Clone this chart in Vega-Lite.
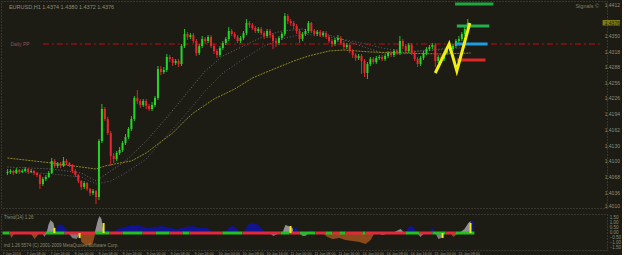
{
  "$schema": "https://vega.github.io/schema/vega-lite/v6.json",
  "background": "#1c1b14",
  "padding": 0,
  "spacing": 3,
  "config": {
    "view": {"stroke": "#55554a", "strokeDash": [1, 2]},
    "axis": {"grid": false, "domain": false, "ticks": false, "labelColor": "#8e8e78", "labelFont": "Liberation Sans", "labelFontSize": 5, "title": null},
    "text": {"font": "Liberation Sans"}
  },
  "datasets": {
    "candles": [
      {"i":0,"o":1.4076,"h":1.4084,"l":1.4072,"c":1.4078},
      {"i":1,"o":1.4078,"h":1.4084,"l":1.4074,"c":1.4080},
      {"i":2,"o":1.4080,"h":1.4082,"l":1.4072,"c":1.4076},
      {"i":3,"o":1.4076,"h":1.4086,"l":1.4074,"c":1.4082},
      {"i":4,"o":1.4082,"h":1.4084,"l":1.4074,"c":1.4078},
      {"i":5,"o":1.4078,"h":1.4084,"l":1.4076,"c":1.4080},
      {"i":6,"o":1.4080,"h":1.4088,"l":1.4078,"c":1.4084},
      {"i":7,"o":1.4084,"h":1.4086,"l":1.4074,"c":1.4078},
      {"i":8,"o":1.4078,"h":1.4084,"l":1.4076,"c":1.4080},
      {"i":9,"o":1.4080,"h":1.4082,"l":1.4072,"c":1.4076},
      {"i":10,"o":1.4076,"h":1.4078,"l":1.4068,"c":1.4072},
      {"i":11,"o":1.4072,"h":1.4074,"l":1.4044,"c":1.4054},
      {"i":12,"o":1.4054,"h":1.4068,"l":1.4050,"c":1.4064},
      {"i":13,"o":1.4064,"h":1.4072,"l":1.4060,"c":1.4068},
      {"i":14,"o":1.4068,"h":1.4080,"l":1.4066,"c":1.4076},
      {"i":15,"o":1.4076,"h":1.4106,"l":1.4074,"c":1.4100},
      {"i":16,"o":1.4100,"h":1.4104,"l":1.4086,"c":1.4090},
      {"i":17,"o":1.4090,"h":1.4098,"l":1.4086,"c":1.4094},
      {"i":18,"o":1.4094,"h":1.4098,"l":1.4086,"c":1.4090},
      {"i":19,"o":1.4090,"h":1.4108,"l":1.4088,"c":1.4100},
      {"i":20,"o":1.4100,"h":1.4104,"l":1.4092,"c":1.4096},
      {"i":21,"o":1.4096,"h":1.4098,"l":1.4088,"c":1.4092},
      {"i":22,"o":1.4092,"h":1.4094,"l":1.4076,"c":1.4080},
      {"i":23,"o":1.4080,"h":1.4084,"l":1.4068,"c":1.4072},
      {"i":24,"o":1.4072,"h":1.4074,"l":1.4056,"c":1.4060},
      {"i":25,"o":1.4060,"h":1.4062,"l":1.4042,"c":1.4048},
      {"i":26,"o":1.4048,"h":1.4060,"l":1.4044,"c":1.4056},
      {"i":27,"o":1.4056,"h":1.4058,"l":1.4040,"c":1.4044},
      {"i":28,"o":1.4044,"h":1.4046,"l":1.4030,"c":1.4036},
      {"i":29,"o":1.4036,"h":1.4044,"l":1.4032,"c":1.4040},
      {"i":30,"o":1.4040,"h":1.4042,"l":1.4014,"c":1.4028},
      {"i":31,"o":1.4028,"h":1.4144,"l":1.4022,"c":1.4140},
      {"i":32,"o":1.4140,"h":1.4214,"l":1.4136,"c":1.4204},
      {"i":33,"o":1.4204,"h":1.4208,"l":1.4180,"c":1.4184},
      {"i":34,"o":1.4184,"h":1.4188,"l":1.4152,"c":1.4156},
      {"i":35,"o":1.4156,"h":1.4160,"l":1.4090,"c":1.4110},
      {"i":36,"o":1.4110,"h":1.4116,"l":1.4096,"c":1.4104},
      {"i":37,"o":1.4104,"h":1.4120,"l":1.4100,"c":1.4116},
      {"i":38,"o":1.4116,"h":1.4128,"l":1.4112,"c":1.4122},
      {"i":39,"o":1.4122,"h":1.4140,"l":1.4118,"c":1.4136},
      {"i":40,"o":1.4136,"h":1.4154,"l":1.4132,"c":1.4148},
      {"i":41,"o":1.4148,"h":1.4168,"l":1.4144,"c":1.4164},
      {"i":42,"o":1.4164,"h":1.4190,"l":1.4160,"c":1.4184},
      {"i":43,"o":1.4184,"h":1.4230,"l":1.4180,"c":1.4226},
      {"i":44,"o":1.4226,"h":1.4242,"l":1.4214,"c":1.4220},
      {"i":45,"o":1.4220,"h":1.4224,"l":1.4206,"c":1.4212},
      {"i":46,"o":1.4212,"h":1.4224,"l":1.4208,"c":1.4220},
      {"i":47,"o":1.4220,"h":1.4224,"l":1.4204,"c":1.4210},
      {"i":48,"o":1.4210,"h":1.4214,"l":1.4200,"c":1.4204},
      {"i":49,"o":1.4204,"h":1.4218,"l":1.4200,"c":1.4212},
      {"i":50,"o":1.4212,"h":1.4230,"l":1.4208,"c":1.4226},
      {"i":51,"o":1.4226,"h":1.4290,"l":1.4222,"c":1.4284},
      {"i":52,"o":1.4284,"h":1.4290,"l":1.4272,"c":1.4278},
      {"i":53,"o":1.4278,"h":1.4288,"l":1.4274,"c":1.4282},
      {"i":54,"o":1.4282,"h":1.4314,"l":1.4278,"c":1.4308},
      {"i":55,"o":1.4308,"h":1.4312,"l":1.4298,"c":1.4304},
      {"i":56,"o":1.4304,"h":1.4308,"l":1.4290,"c":1.4296},
      {"i":57,"o":1.4296,"h":1.4304,"l":1.4292,"c":1.4300},
      {"i":58,"o":1.4300,"h":1.4304,"l":1.4288,"c":1.4294},
      {"i":59,"o":1.4294,"h":1.4334,"l":1.4290,"c":1.4330},
      {"i":60,"o":1.4330,"h":1.4364,"l":1.4326,"c":1.4354},
      {"i":61,"o":1.4354,"h":1.4358,"l":1.4342,"c":1.4348},
      {"i":62,"o":1.4348,"h":1.4356,"l":1.4344,"c":1.4352},
      {"i":63,"o":1.4352,"h":1.4356,"l":1.4336,"c":1.4340},
      {"i":64,"o":1.4340,"h":1.4344,"l":1.4310,"c":1.4316},
      {"i":65,"o":1.4316,"h":1.4334,"l":1.4312,"c":1.4330},
      {"i":66,"o":1.4330,"h":1.4350,"l":1.4326,"c":1.4344},
      {"i":67,"o":1.4344,"h":1.4348,"l":1.4334,"c":1.4340},
      {"i":68,"o":1.4340,"h":1.4352,"l":1.4336,"c":1.4348},
      {"i":69,"o":1.4348,"h":1.4352,"l":1.4326,"c":1.4330},
      {"i":70,"o":1.4330,"h":1.4334,"l":1.4314,"c":1.4320},
      {"i":71,"o":1.4320,"h":1.4324,"l":1.4306,"c":1.4312},
      {"i":72,"o":1.4312,"h":1.4330,"l":1.4308,"c":1.4326},
      {"i":73,"o":1.4326,"h":1.4340,"l":1.4322,"c":1.4336},
      {"i":74,"o":1.4336,"h":1.4348,"l":1.4332,"c":1.4344},
      {"i":75,"o":1.4344,"h":1.4368,"l":1.4340,"c":1.4360},
      {"i":76,"o":1.4360,"h":1.4364,"l":1.4350,"c":1.4354},
      {"i":77,"o":1.4354,"h":1.4358,"l":1.4344,"c":1.4348},
      {"i":78,"o":1.4348,"h":1.4352,"l":1.4336,"c":1.4340},
      {"i":79,"o":1.4340,"h":1.4350,"l":1.4336,"c":1.4346},
      {"i":80,"o":1.4346,"h":1.4360,"l":1.4342,"c":1.4356},
      {"i":81,"o":1.4356,"h":1.4384,"l":1.4352,"c":1.4376},
      {"i":82,"o":1.4376,"h":1.4380,"l":1.4366,"c":1.4372},
      {"i":83,"o":1.4372,"h":1.4376,"l":1.4362,"c":1.4366},
      {"i":84,"o":1.4366,"h":1.4370,"l":1.4356,"c":1.4360},
      {"i":85,"o":1.4360,"h":1.4368,"l":1.4356,"c":1.4364},
      {"i":86,"o":1.4364,"h":1.4368,"l":1.4352,"c":1.4356},
      {"i":87,"o":1.4356,"h":1.4360,"l":1.4344,"c":1.4350},
      {"i":88,"o":1.4350,"h":1.4364,"l":1.4346,"c":1.4360},
      {"i":89,"o":1.4360,"h":1.4364,"l":1.4346,"c":1.4352},
      {"i":90,"o":1.4352,"h":1.4356,"l":1.4324,"c":1.4340},
      {"i":91,"o":1.4340,"h":1.4346,"l":1.4328,"c":1.4336},
      {"i":92,"o":1.4336,"h":1.4350,"l":1.4332,"c":1.4346},
      {"i":93,"o":1.4346,"h":1.4358,"l":1.4342,"c":1.4354},
      {"i":94,"o":1.4354,"h":1.4396,"l":1.4350,"c":1.4390},
      {"i":95,"o":1.4390,"h":1.4394,"l":1.4374,"c":1.4380},
      {"i":96,"o":1.4380,"h":1.4384,"l":1.4370,"c":1.4376},
      {"i":97,"o":1.4376,"h":1.4380,"l":1.4364,"c":1.4370},
      {"i":98,"o":1.4370,"h":1.4374,"l":1.4354,"c":1.4360},
      {"i":99,"o":1.4360,"h":1.4364,"l":1.4336,"c":1.4344},
      {"i":100,"o":1.4344,"h":1.4358,"l":1.4340,"c":1.4354},
      {"i":101,"o":1.4354,"h":1.4364,"l":1.4350,"c":1.4360},
      {"i":102,"o":1.4360,"h":1.4380,"l":1.4356,"c":1.4376},
      {"i":103,"o":1.4376,"h":1.4378,"l":1.4356,"c":1.4360},
      {"i":104,"o":1.4360,"h":1.4364,"l":1.4350,"c":1.4354},
      {"i":105,"o":1.4354,"h":1.4362,"l":1.4350,"c":1.4358},
      {"i":106,"o":1.4358,"h":1.4362,"l":1.4348,"c":1.4352},
      {"i":107,"o":1.4352,"h":1.4360,"l":1.4348,"c":1.4356},
      {"i":108,"o":1.4356,"h":1.4360,"l":1.4344,"c":1.4348},
      {"i":109,"o":1.4348,"h":1.4352,"l":1.4336,"c":1.4340},
      {"i":110,"o":1.4340,"h":1.4344,"l":1.4328,"c":1.4334},
      {"i":111,"o":1.4334,"h":1.4346,"l":1.4330,"c":1.4342},
      {"i":112,"o":1.4342,"h":1.4352,"l":1.4338,"c":1.4346},
      {"i":113,"o":1.4346,"h":1.4350,"l":1.4332,"c":1.4336},
      {"i":114,"o":1.4336,"h":1.4340,"l":1.4322,"c":1.4328},
      {"i":115,"o":1.4328,"h":1.4336,"l":1.4324,"c":1.4332},
      {"i":116,"o":1.4332,"h":1.4336,"l":1.4316,"c":1.4320},
      {"i":117,"o":1.4320,"h":1.4324,"l":1.4306,"c":1.4312},
      {"i":118,"o":1.4312,"h":1.4316,"l":1.4300,"c":1.4306},
      {"i":119,"o":1.4306,"h":1.4314,"l":1.4302,"c":1.4310},
      {"i":120,"o":1.4310,"h":1.4314,"l":1.4274,"c":1.4300},
      {"i":121,"o":1.4300,"h":1.4304,"l":1.4268,"c":1.4276},
      {"i":122,"o":1.4276,"h":1.4298,"l":1.4264,"c":1.4294},
      {"i":123,"o":1.4294,"h":1.4308,"l":1.4290,"c":1.4304},
      {"i":124,"o":1.4304,"h":1.4308,"l":1.4294,"c":1.4298},
      {"i":125,"o":1.4298,"h":1.4310,"l":1.4294,"c":1.4306},
      {"i":126,"o":1.4306,"h":1.4312,"l":1.4302,"c":1.4308},
      {"i":127,"o":1.4308,"h":1.4312,"l":1.4300,"c":1.4304},
      {"i":128,"o":1.4304,"h":1.4314,"l":1.4300,"c":1.4310},
      {"i":129,"o":1.4310,"h":1.4320,"l":1.4306,"c":1.4316},
      {"i":130,"o":1.4316,"h":1.4320,"l":1.4308,"c":1.4312},
      {"i":131,"o":1.4312,"h":1.4324,"l":1.4308,"c":1.4320},
      {"i":132,"o":1.4320,"h":1.4324,"l":1.4312,"c":1.4316},
      {"i":133,"o":1.4316,"h":1.4350,"l":1.4312,"c":1.4340},
      {"i":134,"o":1.4340,"h":1.4344,"l":1.4324,"c":1.4330},
      {"i":135,"o":1.4330,"h":1.4334,"l":1.4314,"c":1.4320},
      {"i":136,"o":1.4320,"h":1.4336,"l":1.4316,"c":1.4332},
      {"i":137,"o":1.4332,"h":1.4336,"l":1.4312,"c":1.4316},
      {"i":138,"o":1.4316,"h":1.4320,"l":1.4300,"c":1.4304},
      {"i":139,"o":1.4304,"h":1.4308,"l":1.4288,"c":1.4294},
      {"i":140,"o":1.4294,"h":1.4310,"l":1.4290,"c":1.4306},
      {"i":141,"o":1.4306,"h":1.4320,"l":1.4302,"c":1.4316},
      {"i":142,"o":1.4316,"h":1.4328,"l":1.4312,"c":1.4324},
      {"i":143,"o":1.4324,"h":1.4332,"l":1.4320,"c":1.4328},
      {"i":144,"o":1.4328,"h":1.4336,"l":1.4324,"c":1.4332},
      {"i":145,"o":1.4332,"h":1.4336,"l":1.4288,"c":1.4300},
      {"i":146,"o":1.4300,"h":1.4312,"l":1.4296,"c":1.4308},
      {"i":147,"o":1.4308,"h":1.4312,"l":1.4300,"c":1.4304},
      {"i":148,"o":1.4304,"h":1.4320,"l":1.4300,"c":1.4316},
      {"i":149,"o":1.4316,"h":1.4324,"l":1.4312,"c":1.4320},
      {"i":150,"o":1.4320,"h":1.4328,"l":1.4316,"c":1.4324},
      {"i":151,"o":1.4324,"h":1.4334,"l":1.4320,"c":1.4330},
      {"i":152,"o":1.4330,"h":1.4344,"l":1.4326,"c":1.4340},
      {"i":153,"o":1.4340,"h":1.4350,"l":1.4336,"c":1.4344},
      {"i":154,"o":1.4344,"h":1.4358,"l":1.4340,"c":1.4354},
      {"i":155,"o":1.4354,"h":1.4368,"l":1.4350,"c":1.4364},
      {"i":156,"o":1.4364,"h":1.4384,"l":1.4360,"c":1.4376}
    ],
    "ma": [
      {"name":"slow","i":0,"p":1.4106},{"name":"slow","i":15,"p":1.4096},{"name":"slow","i":30,"p":1.4084},
      {"name":"slow","i":33,"p":1.4090},{"name":"slow","i":38,"p":1.4096},{"name":"slow","i":42,"p":1.4100},
      {"name":"slow","i":47,"p":1.4116},{"name":"slow","i":51,"p":1.4134},{"name":"slow","i":56,"p":1.4156},
      {"name":"slow","i":60,"p":1.4180},{"name":"slow","i":63,"p":1.4196},{"name":"slow","i":70,"p":1.4224},
      {"name":"slow","i":77,"p":1.4244},{"name":"slow","i":83,"p":1.4266},{"name":"slow","i":87,"p":1.4276},
      {"name":"slow","i":97,"p":1.4300},{"name":"slow","i":102,"p":1.4310},{"name":"slow","i":109,"p":1.4320},
      {"name":"slow","i":114,"p":1.4322},{"name":"slow","i":123,"p":1.4318},{"name":"slow","i":133,"p":1.4316},
      {"name":"slow","i":147,"p":1.4314},{"name":"slow","i":157,"p":1.4316},
      {"name":"fast","i":0,"p":1.4088},{"name":"fast","i":15,"p":1.4084},{"name":"fast","i":25,"p":1.4076},
      {"name":"fast","i":30,"p":1.4060},{"name":"fast","i":35,"p":1.4080},{"name":"fast","i":40,"p":1.4100},
      {"name":"fast","i":47,"p":1.4140},{"name":"fast","i":53,"p":1.4180},{"name":"fast","i":60,"p":1.4230},
      {"name":"fast","i":67,"p":1.4280},{"name":"fast","i":73,"p":1.4310},{"name":"fast","i":80,"p":1.4330},
      {"name":"fast","i":87,"p":1.4350},{"name":"fast","i":93,"p":1.4360},{"name":"fast","i":100,"p":1.4364},
      {"name":"fast","i":107,"p":1.4356},{"name":"fast","i":113,"p":1.4344},{"name":"fast","i":120,"p":1.4330},
      {"name":"fast","i":127,"p":1.4316},{"name":"fast","i":133,"p":1.4316},{"name":"fast","i":140,"p":1.4320},
      {"name":"fast","i":147,"p":1.4324},{"name":"fast","i":156,"p":1.4336},
      {"name":"mid","i":0,"p":1.4080},{"name":"mid","i":15,"p":1.4074},{"name":"mid","i":25,"p":1.4068},
      {"name":"mid","i":30,"p":1.4054},{"name":"mid","i":35,"p":1.4060},{"name":"mid","i":40,"p":1.4076},
      {"name":"mid","i":47,"p":1.4104},{"name":"mid","i":53,"p":1.4144},{"name":"mid","i":60,"p":1.4190},
      {"name":"mid","i":67,"p":1.4240},{"name":"mid","i":73,"p":1.4276},{"name":"mid","i":80,"p":1.4304},
      {"name":"mid","i":87,"p":1.4330},{"name":"mid","i":93,"p":1.4344},{"name":"mid","i":100,"p":1.4354},
      {"name":"mid","i":107,"p":1.4350},{"name":"mid","i":113,"p":1.4344},{"name":"mid","i":120,"p":1.4336},
      {"name":"mid","i":127,"p":1.4326},{"name":"mid","i":133,"p":1.4320},{"name":"mid","i":140,"p":1.4320},
      {"name":"mid","i":147,"p":1.4322},{"name":"mid","i":156,"p":1.4328}
    ],
    "levels": [
      {"name":"TP2","i1":151.7,"i2":164.7,"p":1.4414},
      {"name":"TP1","i1":152.3,"i2":163.3,"p":1.4370},
      {"name":"Entry","i1":152,"i2":162.7,"p":1.4334},
      {"name":"SL","i1":152.3,"i2":162,"p":1.4302}
    ],
    "zigzag": [
      {"i":145,"p":1.4276},{"i":149.7,"p":1.4334},{"i":152.3,"p":1.4280},{"i":156.7,"p":1.4376}
    ],
    "osc": [
      {"seg":"a1","kind":"brown","i":2.3,"v":0},{"seg":"a1","kind":"brown","i":3,"v":-0.5},{"seg":"a1","kind":"brown","i":4,"v":0},
      {"seg":"a2","kind":"brown","i":9.3,"v":0},{"seg":"a2","kind":"brown","i":10.7,"v":-0.6},{"seg":"a2","kind":"brown","i":12.3,"v":0},
      {"seg":"a3","kind":"graydn","i":13.3,"v":0},{"seg":"a3","kind":"graydn","i":14,"v":-0.4},{"seg":"a3","kind":"graydn","i":14.7,"v":0},
      {"seg":"a4","kind":"grayup","i":14.7,"v":0},{"seg":"a4","kind":"grayup","i":15.3,"v":0.8},{"seg":"a4","kind":"grayup","i":16,"v":1.3},{"seg":"a4","kind":"grayup","i":17,"v":1.0},{"seg":"a4","kind":"grayup","i":17.7,"v":0},
      {"seg":"a5","kind":"blue","i":17.7,"v":0},{"seg":"a5","kind":"blue","i":18,"v":0.6},{"seg":"a5","kind":"blue","i":19,"v":0.9},{"seg":"a5","kind":"blue","i":20,"v":0.8},{"seg":"a5","kind":"blue","i":21,"v":0.5},{"seg":"a5","kind":"blue","i":22,"v":0},
      {"seg":"a6","kind":"graydn","i":22,"v":0},{"seg":"a6","kind":"graydn","i":23.3,"v":-0.5},{"seg":"a6","kind":"graydn","i":24.7,"v":-0.6},{"seg":"a6","kind":"graydn","i":26,"v":0},
      {"seg":"a7","kind":"brown","i":25.7,"v":0},{"seg":"a7","kind":"brown","i":26.3,"v":-0.9},{"seg":"a7","kind":"brown","i":27.7,"v":-1.2},{"seg":"a7","kind":"brown","i":29,"v":-1.3},{"seg":"a7","kind":"brown","i":30,"v":-1.1},{"seg":"a7","kind":"brown","i":31,"v":0},
      {"seg":"a8","kind":"grayup","i":30.7,"v":0},{"seg":"a8","kind":"grayup","i":31.7,"v":1.2},{"seg":"a8","kind":"grayup","i":32.3,"v":1.7},{"seg":"a8","kind":"grayup","i":33,"v":1.4},{"seg":"a8","kind":"grayup","i":33.7,"v":0},
      {"seg":"a9","kind":"blue","i":33.7,"v":0},{"seg":"a9","kind":"blue","i":34,"v":0.4},{"seg":"a9","kind":"blue","i":35,"v":0.4},{"seg":"a9","kind":"blue","i":36,"v":0},
      {"seg":"a10","kind":"blue","i":36.7,"v":0},{"seg":"a10","kind":"blue","i":38.3,"v":0.4},{"seg":"a10","kind":"blue","i":40.7,"v":0.6},{"seg":"a10","kind":"blue","i":43.3,"v":0.8},{"seg":"a10","kind":"blue","i":46,"v":0.7},{"seg":"a10","kind":"blue","i":48.3,"v":0.5},{"seg":"a10","kind":"blue","i":50.7,"v":0.6},{"seg":"a10","kind":"blue","i":53.3,"v":0.7},{"seg":"a10","kind":"blue","i":56,"v":0.5},{"seg":"a10","kind":"blue","i":58.3,"v":0.4},{"seg":"a10","kind":"blue","i":61,"v":0.6},{"seg":"a10","kind":"blue","i":63.3,"v":0.7},{"seg":"a10","kind":"blue","i":65.7,"v":0.5},{"seg":"a10","kind":"blue","i":68.3,"v":0.5},{"seg":"a10","kind":"blue","i":70.7,"v":0},
      {"seg":"a11","kind":"blue","i":74,"v":0},{"seg":"a11","kind":"blue","i":75.3,"v":0.5},{"seg":"a11","kind":"blue","i":76.7,"v":0.7},{"seg":"a11","kind":"blue","i":78,"v":0.5},{"seg":"a11","kind":"blue","i":79,"v":0},
      {"seg":"a12","kind":"blue","i":80.3,"v":0},{"seg":"a12","kind":"blue","i":81.7,"v":0.8},{"seg":"a12","kind":"blue","i":83,"v":1.0},{"seg":"a12","kind":"blue","i":84.7,"v":0.9},{"seg":"a12","kind":"blue","i":86.3,"v":0.5},{"seg":"a12","kind":"blue","i":87.7,"v":0},
      {"seg":"a13","kind":"graydn","i":89,"v":0},{"seg":"a13","kind":"graydn","i":90.3,"v":-0.3},{"seg":"a13","kind":"graydn","i":92.3,"v":0},
      {"seg":"a14","kind":"grayup","i":93.3,"v":0},{"seg":"a14","kind":"grayup","i":94.3,"v":0.8},{"seg":"a14","kind":"grayup","i":95.3,"v":0.7},{"seg":"a14","kind":"grayup","i":96.7,"v":0.5},{"seg":"a14","kind":"grayup","i":97,"v":0},
      {"seg":"a15","kind":"blue","i":96.7,"v":0},{"seg":"a15","kind":"blue","i":97,"v":0.5},{"seg":"a15","kind":"blue","i":98,"v":0.5},{"seg":"a15","kind":"blue","i":99,"v":0},
      {"seg":"a16","kind":"graydn","i":99,"v":0},{"seg":"a16","kind":"graydn","i":100,"v":-0.3},{"seg":"a16","kind":"graydn","i":101,"v":-0.3},{"seg":"a16","kind":"graydn","i":102,"v":0},
      {"seg":"a17","kind":"blue","i":102,"v":0},{"seg":"a17","kind":"blue","i":102.7,"v":0.3},{"seg":"a17","kind":"blue","i":103.7,"v":0},
      {"seg":"a18","kind":"brown","i":106.7,"v":0},{"seg":"a18","kind":"brown","i":108.3,"v":-0.4},{"seg":"a18","kind":"brown","i":110,"v":-0.6},{"seg":"a18","kind":"brown","i":112.3,"v":-0.5},{"seg":"a18","kind":"brown","i":114.3,"v":-0.7},{"seg":"a18","kind":"brown","i":116.7,"v":-0.8},{"seg":"a18","kind":"brown","i":119,"v":-0.9},{"seg":"a18","kind":"brown","i":121,"v":-1.1},{"seg":"a18","kind":"brown","i":122.7,"v":-0.7},{"seg":"a18","kind":"brown","i":124,"v":0},
      {"seg":"a19","kind":"graydn","i":124.7,"v":0},{"seg":"a19","kind":"graydn","i":126.7,"v":-0.2},{"seg":"a19","kind":"graydn","i":128.7,"v":0},
      {"seg":"a20","kind":"grayup","i":130,"v":0},{"seg":"a20","kind":"grayup","i":131.3,"v":0.2},{"seg":"a20","kind":"grayup","i":132.7,"v":0.4},{"seg":"a20","kind":"grayup","i":134,"v":0},
      {"seg":"a21","kind":"blue","i":134.3,"v":0},{"seg":"a21","kind":"blue","i":135.3,"v":0.6},{"seg":"a21","kind":"blue","i":136.3,"v":0.7},{"seg":"a21","kind":"blue","i":137.3,"v":0.5},{"seg":"a21","kind":"blue","i":138,"v":0},
      {"seg":"a22","kind":"graydn","i":138.3,"v":0},{"seg":"a22","kind":"graydn","i":139.3,"v":-0.4},{"seg":"a22","kind":"graydn","i":140.7,"v":0},
      {"seg":"a23","kind":"blue","i":142.3,"v":0},{"seg":"a23","kind":"blue","i":143.3,"v":0.5},{"seg":"a23","kind":"blue","i":144.3,"v":0},
      {"seg":"a24","kind":"graydn","i":144.3,"v":0},{"seg":"a24","kind":"graydn","i":145.3,"v":-0.6},{"seg":"a24","kind":"graydn","i":146.3,"v":-0.5},{"seg":"a24","kind":"graydn","i":147,"v":0},
      {"seg":"a25","kind":"brown","i":149.3,"v":0},{"seg":"a25","kind":"brown","i":150.3,"v":-0.4},{"seg":"a25","kind":"brown","i":152,"v":0},
      {"seg":"a26","kind":"grayup","i":152.3,"v":0},{"seg":"a26","kind":"grayup","i":154,"v":0.4},{"seg":"a26","kind":"grayup","i":155.3,"v":1.0},{"seg":"a26","kind":"grayup","i":156,"v":1.2},{"seg":"a26","kind":"grayup","i":156.2,"v":0},
      {"seg":"a27","kind":"blue","i":156,"v":0},{"seg":"a27","kind":"blue","i":156.2,"v":1.2},{"seg":"a27","kind":"blue","i":157,"v":1.2},{"seg":"a27","kind":"blue","i":157.2,"v":0}
    ],
    "ybars": [
      {"i":17.3,"v":0.5},{"i":25.7,"v":-0.5},{"i":33.7,"v":1.0},{"i":96,"v":0.7},{"i":146.7,"v":-0.5},{"i":156,"v":1.0}
    ],
    "zbar": [
      {"a":0,"b":2.3,"dir":"up"},{"a":2.3,"b":14.3,"dir":"down"},{"a":14.3,"b":20.7,"dir":"up"},{"a":20.7,"b":31,"dir":"down"},
      {"a":31,"b":35.7,"dir":"up"},{"a":35.7,"b":40,"dir":"down"},{"a":40,"b":46.7,"dir":"up"},{"a":46.7,"b":51,"dir":"down"},
      {"a":51,"b":55.7,"dir":"up"},{"a":55.7,"b":60,"dir":"down"},{"a":60,"b":62.3,"dir":"up"},{"a":62.3,"b":73.3,"dir":"down"},
      {"a":73.3,"b":80,"dir":"up"},{"a":80,"b":92.7,"dir":"down"},{"a":92.7,"b":95.7,"dir":"up"},{"a":95.7,"b":99,"dir":"down"},
      {"a":99,"b":104.3,"dir":"up"},{"a":104.3,"b":107.7,"dir":"down"},{"a":107.7,"b":110,"dir":"up"},{"a":110,"b":112.3,"dir":"down"},
      {"a":112.3,"b":114.3,"dir":"up"},{"a":114.3,"b":120,"dir":"down"},{"a":120,"b":121,"dir":"up"},{"a":121,"b":134.3,"dir":"down"},
      {"a":134.3,"b":139,"dir":"up"},{"a":139,"b":143.3,"dir":"down"},{"a":143.3,"b":147.7,"dir":"up"},{"a":147.7,"b":151,"dir":"down"},
      {"a":151,"b":157.3,"dir":"up"}
    ],
    "ticks": [
      {"i":0,"t":"7 Jan 2013"},{"i":8,"t":"7 Jan 08:00"},{"i":16,"t":"7 Jan 16:00"},{"i":24,"t":"8 Jan 00:00"},
      {"i":32,"t":"8 Jan 08:00"},{"i":40,"t":"8 Jan 16:00"},{"i":48,"t":"9 Jan 00:00"},{"i":56,"t":"9 Jan 08:00"},
      {"i":64,"t":"9 Jan 16:00"},{"i":72,"t":"10 Jan 00:00"},{"i":80,"t":"10 Jan 08:00"},{"i":88,"t":"10 Jan 16:00"},
      {"i":96,"t":"11 Jan 00:00"},{"i":104,"t":"11 Jan 08:00"},{"i":112,"t":"11 Jan 16:00"},{"i":120,"t":"14 Jan 00:00"},
      {"i":128,"t":"14 Jan 08:00"},{"i":136,"t":"14 Jan 16:00"},{"i":144,"t":"15 Jan 00:00"},{"i":152,"t":"15 Jan 08:00"}
    ],
    "pricelabels": [
      {"p":1.4412},{"p":1.4350},{"p":1.4318},{"p":1.4288},{"p":1.4256},{"p":1.4226},{"p":1.4194},
      {"p":1.4162},{"p":1.4130},{"p":1.4100},{"p":1.4068},{"p":1.4036},{"p":1.4010}
    ],
    "osclabels": [
      {"v":1.5},{"v":1.0},{"v":0.5},{"v":0},{"v":-0.5},{"v":-1.0},{"v":-1.5}
    ]
  },
  "vconcat": [
    {
      "width": 606,
      "height": 207,
      "resolve": {"scale": {"color": "independent"}},
      "layer": [
        {
          "data": {"values": [{"p": 1.4334}]},
          "mark": {"type": "rule", "color": "#8e1212", "strokeWidth": 1.5, "strokeDash": [6, 3, 2, 3]},
          "encoding": {
            "x": {"datum": 12, "type": "quantitative", "scale": {"domain": [-0.5, 201.5]}, "axis": null},
            "x2": {"datum": 201.5},
            "y": {"field": "p", "type": "quantitative", "scale": {"domain": [1.4006, 1.442], "zero": false, "nice": false}, "axis": null}
          }
        },
        {
          "data": {"values": [{"p": 1.4334, "label": "Daily PP"}]},
          "mark": {"type": "text", "color": "#8a5a5a", "fontSize": 5, "align": "left", "baseline": "middle"},
          "encoding": {
            "x": {"datum": 1, "type": "quantitative", "scale": {"domain": [-0.5, 201.5]}, "axis": null},
            "y": {"field": "p", "type": "quantitative", "scale": {"domain": [1.4006, 1.442], "zero": false, "nice": false}, "axis": null},
            "text": {"field": "label"}
          }
        },
        {
          "data": {"name": "ma"},
          "transform": [{"filter": "datum.name !== 'slow'"}],
          "mark": {"type": "line", "strokeWidth": 1, "strokeDash": [1, 2]},
          "encoding": {
            "x": {"field": "i", "type": "quantitative", "scale": {"domain": [-0.5, 201.5]}, "axis": null},
            "y": {"field": "p", "type": "quantitative", "scale": {"domain": [1.4006, 1.442], "zero": false, "nice": false}, "axis": null},
            "detail": {"field": "name"},
            "color": {"field": "name", "type": "nominal", "scale": {"domain": ["fast", "mid"], "range": ["#6e6e70", "#5c5c6c"]}, "legend": null}
          }
        },
        {
          "data": {"name": "ma"},
          "transform": [{"filter": "datum.name === 'slow'"}],
          "mark": {"type": "line", "strokeWidth": 1, "color": "#8e8a24", "strokeDash": [2, 1]},
          "encoding": {
            "x": {"field": "i", "type": "quantitative", "scale": {"domain": [-0.5, 201.5]}, "axis": null},
            "y": {"field": "p", "type": "quantitative", "scale": {"domain": [1.4006, 1.442], "zero": false, "nice": false}, "axis": null}
          }
        },
        {
          "data": {"name": "candles"},
          "mark": {"type": "rule", "strokeWidth": 1},
          "encoding": {
            "x": {"field": "i", "type": "quantitative", "scale": {"domain": [-0.5, 201.5]}, "axis": null},
            "y": {"field": "l", "type": "quantitative", "scale": {"domain": [1.4006, 1.442], "zero": false, "nice": false}, "axis": null},
            "y2": {"field": "h"},
            "color": {"condition": {"test": "datum.c >= datum.o", "value": "#1ec81e"}, "value": "#e0242c"}
          }
        },
        {
          "data": {"name": "candles"},
          "mark": {"type": "bar", "size": 2},
          "encoding": {
            "x": {"field": "i", "type": "quantitative", "scale": {"domain": [-0.5, 201.5]}, "axis": null},
            "y": {"field": "o", "type": "quantitative", "scale": {"domain": [1.4006, 1.442], "zero": false, "nice": false}, "axis": null},
            "y2": {"field": "c"},
            "color": {"condition": {"test": "datum.c >= datum.o", "value": "#22d822"}, "value": "#e8262e"}
          }
        },
        {
          "data": {"name": "levels"},
          "mark": {"type": "rule", "strokeWidth": 3},
          "encoding": {
            "x": {"field": "i1", "type": "quantitative", "scale": {"domain": [-0.5, 201.5]}, "axis": null},
            "x2": {"field": "i2"},
            "y": {"field": "p", "type": "quantitative", "scale": {"domain": [1.4006, 1.442], "zero": false, "nice": false}, "axis": null},
            "color": {"field": "name", "type": "nominal", "scale": {"domain": ["TP2", "TP1", "Entry", "SL"], "range": ["#1fa83e", "#24b04a", "#1c9ee0", "#e02828"]}, "legend": null}
          }
        },
        {
          "data": {"name": "zigzag"},
          "mark": {"type": "line", "strokeWidth": 3, "color": "#f2ee10"},
          "encoding": {
            "x": {"field": "i", "type": "quantitative", "scale": {"domain": [-0.5, 201.5]}, "axis": null},
            "y": {"field": "p", "type": "quantitative", "scale": {"domain": [1.4006, 1.442], "zero": false, "nice": false}, "axis": null}
          }
        },
        {
          "data": {"values": [{"t": "EURUSD,H1  1.4374 1.4380 1.4372 1.4376"}]},
          "mark": {"type": "text", "color": "#8f8f72", "fontSize": 5.5, "align": "left", "baseline": "middle"},
          "encoding": {
            "x": {"datum": 0.5, "type": "quantitative", "scale": {"domain": [-0.5, 201.5]}, "axis": null},
            "y": {"datum": 1.4409, "type": "quantitative", "scale": {"domain": [1.4006, 1.442], "zero": false, "nice": false}, "axis": null},
            "text": {"field": "t"}
          }
        },
        {
          "data": {"values": [{"t": "Signals ©"}]},
          "mark": {"type": "text", "color": "#7e7e6a", "fontSize": 5.5, "align": "left", "baseline": "middle"},
          "encoding": {
            "x": {"datum": 192.5, "type": "quantitative", "scale": {"domain": [-0.5, 201.5]}, "axis": null},
            "y": {"datum": 1.441, "type": "quantitative", "scale": {"domain": [1.4006, 1.442], "zero": false, "nice": false}, "axis": null},
            "text": {"field": "t"}
          }
        },
        {
          "data": {"name": "pricelabels"},
          "mark": {"type": "text", "color": "#8e8e78", "fontSize": 5, "align": "left", "baseline": "middle", "clip": false},
          "encoding": {
            "x": {"datum": 202.4, "type": "quantitative", "scale": {"domain": [-0.5, 201.5]}, "axis": null},
            "y": {"field": "p", "type": "quantitative", "scale": {"domain": [1.4006, 1.442], "zero": false, "nice": false}, "axis": null},
            "text": {"field": "p", "format": ".4f"}
          }
        },
        {
          "data": {"values": [{"p": 1.4376}]},
          "mark": {"type": "rect", "color": "#7d7b12", "clip": false},
          "encoding": {
            "x": {"datum": 201.7, "type": "quantitative", "scale": {"domain": [-0.5, 201.5]}, "axis": null},
            "x2": {"datum": 207.6},
            "y": {"datum": 1.4371, "type": "quantitative", "scale": {"domain": [1.4006, 1.442], "zero": false, "nice": false}, "axis": null},
            "y2": {"datum": 1.4382}
          }
        },
        {
          "data": {"values": [{"p": 1.4376}]},
          "mark": {"type": "text", "color": "#1c1b14", "fontSize": 5, "align": "left", "baseline": "middle", "clip": false},
          "encoding": {
            "x": {"datum": 202.4, "type": "quantitative", "scale": {"domain": [-0.5, 201.5]}, "axis": null},
            "y": {"field": "p", "type": "quantitative", "scale": {"domain": [1.4006, 1.442], "zero": false, "nice": false}, "axis": null},
            "text": {"field": "p", "format": ".4f"}
          }
        }
      ]
    },
    {
      "width": 606,
      "height": 36,
      "resolve": {"scale": {"color": "independent"}},
      "layer": [
        {
          "data": {"name": "osc"},
          "mark": {"type": "area"},
          "encoding": {
            "x": {"field": "i", "type": "quantitative", "scale": {"domain": [-0.5, 201.5]}, "axis": null},
            "y": {"field": "v", "type": "quantitative", "scale": {"domain": [-1.7, 1.9], "zero": false, "nice": false}, "axis": null},
            "y2": {"datum": 0},
            "detail": {"field": "seg"},
            "color": {"field": "kind", "type": "nominal", "scale": {"domain": ["grayup", "graydn", "blue", "brown"], "range": ["#909090", "#7c7c7c", "#12148e", "#8c4a1a"]}, "legend": null}
          }
        },
        {
          "data": {"name": "zbar"},
          "mark": {"type": "rule", "strokeWidth": 3},
          "encoding": {
            "x": {"field": "a", "type": "quantitative", "scale": {"domain": [-0.5, 201.5]}, "axis": null},
            "x2": {"field": "b"},
            "y": {"datum": 0, "type": "quantitative", "scale": {"domain": [-1.7, 1.9], "zero": false, "nice": false}, "axis": null},
            "color": {"field": "dir", "type": "nominal", "scale": {"domain": ["up", "down"], "range": ["#22c022", "#e2283a"]}, "legend": null}
          }
        },
        {
          "data": {"name": "ybars"},
          "mark": {"type": "rule", "strokeWidth": 2, "color": "#f0ea10"},
          "encoding": {
            "x": {"field": "i", "type": "quantitative", "scale": {"domain": [-0.5, 201.5]}, "axis": null},
            "y": {"field": "v", "type": "quantitative", "scale": {"domain": [-1.7, 1.9], "zero": false, "nice": false}, "axis": null},
            "y2": {"datum": 0}
          }
        },
        {
          "data": {"values": [{"t": "Trend(14) 1.26"}]},
          "mark": {"type": "text", "color": "#8a8a70", "fontSize": 4.5, "align": "left", "baseline": "middle"},
          "encoding": {
            "x": {"datum": 0.5, "type": "quantitative", "scale": {"domain": [-0.5, 201.5]}, "axis": null},
            "y": {"datum": 1.5, "type": "quantitative", "scale": {"domain": [-1.7, 1.9], "zero": false, "nice": false}, "axis": null},
            "text": {"field": "t"}
          }
        },
        {
          "data": {"values": [{"t": "ind 1.26 5574   (C) 2001-2009 MetaQuotes Software Corp."}]},
          "mark": {"type": "text", "color": "#8a8a70", "fontSize": 4.5, "align": "left", "baseline": "middle"},
          "encoding": {
            "x": {"datum": 0.5, "type": "quantitative", "scale": {"domain": [-0.5, 201.5]}, "axis": null},
            "y": {"datum": -1.3, "type": "quantitative", "scale": {"domain": [-1.7, 1.9], "zero": false, "nice": false}, "axis": null},
            "text": {"field": "t"}
          }
        },
        {
          "data": {"name": "osclabels"},
          "mark": {"type": "text", "color": "#8e8e78", "fontSize": 4.5, "align": "left", "baseline": "middle", "clip": false},
          "encoding": {
            "x": {"datum": 202.4, "type": "quantitative", "scale": {"domain": [-0.5, 201.5]}, "axis": null},
            "y": {"field": "v", "type": "quantitative", "scale": {"domain": [-1.7, 1.9], "zero": false, "nice": false}, "axis": null},
            "text": {"field": "v", "format": ".2f"}
          }
        },
        {
          "data": {"name": "ticks"},
          "mark": {"type": "text", "color": "#8e8e78", "fontSize": 3.7, "align": "left", "baseline": "top", "dy": 1.5, "clip": false},
          "encoding": {
            "x": {"field": "i", "type": "quantitative", "scale": {"domain": [-0.5, 201.5]}, "axis": null},
            "y": {"datum": -1.7, "type": "quantitative", "scale": {"domain": [-1.7, 1.9], "zero": false, "nice": false}, "axis": null},
            "text": {"field": "t"}
          }
        }
      ]
    }
  ]
}
